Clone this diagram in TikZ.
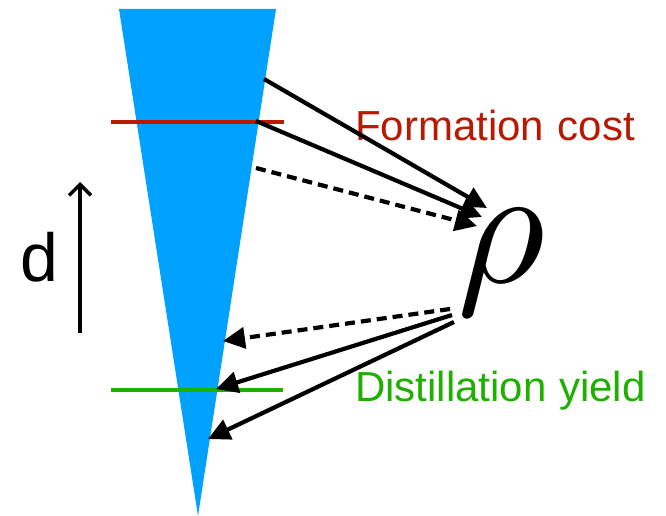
\documentclass[tikz,border=0pt]{standalone}
\usepackage{fontspec}
\setmainfont{Liberation Sans}
\usepackage{unicode-math}
\setmathfont{Latin Modern Math}
\usetikzlibrary{arrows.meta}
\definecolor{coneblue}{RGB}{0,161,255}
\definecolor{costred}{RGB}{185,25,0}
\definecolor{yieldgreen}{RGB}{30,175,0}
\tikzset{
  link/.style={line width=4.2pt, -{Triangle[length=22pt,width=21pt]}},
  dashlink/.style={link, dash pattern=on 10pt off 6pt},
  level/.style={line width=4pt},
  label/.style={inner sep=0pt, font=\fontsize{42}{42}\selectfont, anchor=base west}
}
\begin{document}
\begin{tikzpicture}[x=1pt,y=-1pt]
\useasboundingbox (0,0) rectangle (666,516);
% cone
\coordinate (tl) at (119,9);
\coordinate (tr) at (276,9);
\coordinate (apex) at (198,516);
\fill[coneblue] (tl) -- (tr) -- (apex) -- cycle;
% level lines
\coordinate (r1) at (111,122);
\coordinate (r2) at (284,122);
\draw[level, costred] (r1) -- (r2);
\coordinate (g1) at (111,390);
\coordinate (g2) at (283,390);
\draw[level, yieldgreen] (g1) -- (g2);
% labels
\node[label, text=costred] (cost) at (355,140) {Formation\kern2pt\ cost};
\node[label, text=yieldgreen] (yield) at (355,401) {Distillation\kern1pt\ yield};
% rho
\node[inner sep=0pt] (rho) at (503,263) {\fontsize{170}{170}\selectfont$\rho$};
% d arrow
\coordinate (d1) at (80,333);
\coordinate (d2) at (80,182);
\draw[line width=3.5pt, -{Straight Barb[length=11pt,width=22pt]}] (d1) -- (d2);
\node[inner sep=0pt, font=\fontsize{68}{68}\selectfont] (dlab) at (39,257) {d};
% top arrows
\coordinate (s1) at (264,79);
\coordinate (s2) at (256,121);
\coordinate (s3) at (256,168);
\coordinate (e1) at (487,208);
\coordinate (e2) at (482,217);
\coordinate (e3) at (477,226);
\draw[link] (s1) -- (e1);
\draw[link] (s2) -- (e2);
\draw[dashlink] (s3) -- (e3);
% bottom arrows
\coordinate (b1) at (450,309);
\coordinate (b2) at (452,315);
\coordinate (b3) at (454,322);
\coordinate (f1) at (223,341);
\coordinate (f2) at (216,389);
\coordinate (f3) at (208,439);
\draw[dashlink] (b1) -- (f1);
\draw[link] (b2) -- (f2);
\draw[link] (b3) -- (f3);
\end{tikzpicture}
\end{document}
